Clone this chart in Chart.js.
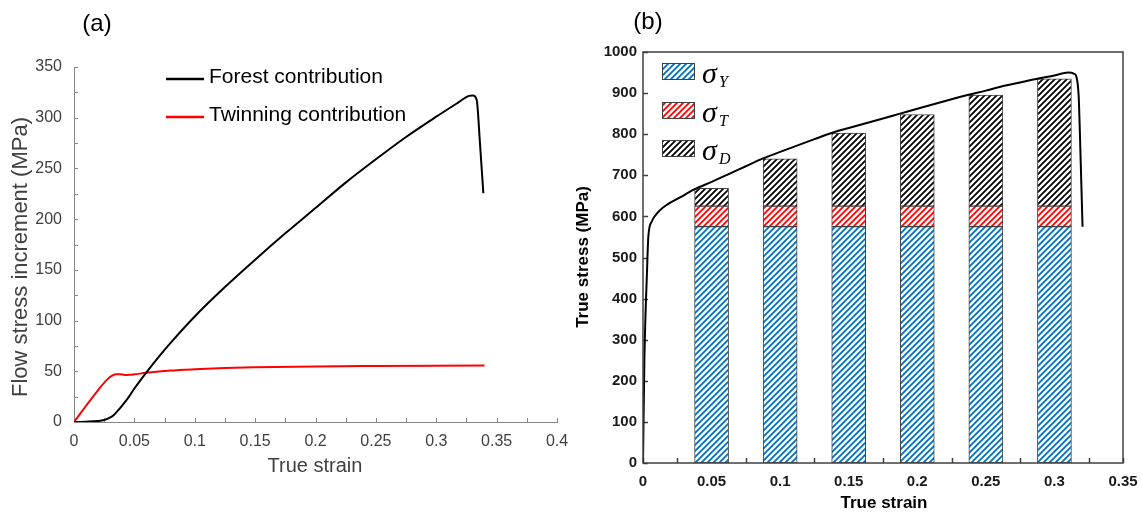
<!DOCTYPE html>
<html>
<head>
<meta charset="utf-8">
<script src="https://cdn.jsdelivr.net/npm/chart.js@4.4.1/dist/chart.umd.min.js"></script>
<style>
  body { margin: 0; background: #fff; }
  #wrap { position: relative; width: 1142px; height: 515px; overflow: hidden; }
  #chartA { position: absolute; left: 0; top: 0; }
  #chartB { position: absolute; left: 570px; top: 0; }
</style>
</head>
<body>
<div id="wrap">
  <canvas id="chartA" width="580" height="515"></canvas>
  <canvas id="chartB" width="572" height="515"></canvas>
</div>
<script>
// (a) flow stress increment vs true strain
const forestStrain = [0, 0.01, 0.02, 0.025, 0.03, 0.033, 0.038, 0.045, 0.05, 0.06, 0.07, 0.08, 0.1, 0.125, 0.15, 0.175, 0.2, 0.225, 0.25, 0.275, 0.3, 0.317, 0.327, 0.3305, 0.3335, 0.3362, 0.339];
const forestStress = [0, 0.3, 1, 2, 4.5, 7, 13.5, 24, 33, 49, 64, 78, 104, 133, 160, 186, 211, 236, 259, 281, 301, 314, 321.5, 322, 317.5, 275, 225.5];
const twinStrain = [0, 0.01, 0.02, 0.028, 0.032, 0.035, 0.038, 0.042, 0.046, 0.05, 0.06, 0.08, 0.1, 0.125, 0.15, 0.2, 0.25, 0.3, 0.34];
const twinStress = [0, 16, 31.5, 42.5, 46, 47.2, 47.2, 46.3, 46.5, 47, 48.5, 50.7, 52, 53.2, 54, 54.8, 55.2, 55.5, 55.7];
const strainTicksA = [0, 0.05, 0.1, 0.15, 0.2, 0.25, 0.3, 0.35, 0.4];
const stressTicksA = [0, 50, 100, 150, 200, 250, 300, 350];

// (b) true stress and its contributions
const barStrain = [0.05, 0.1, 0.15, 0.2, 0.25, 0.3];
const sigmaY = [575, 575, 575, 575, 575, 575];
const sigmaT = [50, 50, 50, 50, 50, 50];
const sigmaD = [43, 115, 178, 223, 270, 310];
const curveStrain = [0, 0.001, 0.002, 0.0027, 0.0039, 0.0063, 0.0112, 0.0173, 0.027, 0.037, 0.05, 0.0625, 0.075, 0.0875, 0.1, 0.125, 0.1375, 0.15, 0.175, 0.1875, 0.2, 0.225, 0.2375, 0.25, 0.26, 0.275, 0.2875, 0.3, 0.31, 0.3145, 0.316, 0.3177, 0.3185, 0.3205];
const curveStress = [0, 250, 380, 445, 551, 587, 611, 628, 646, 665, 684, 703, 722, 741, 757, 788, 803, 815, 838, 850, 862, 885, 896, 906, 915, 926, 935, 943, 950, 947, 940, 891, 810, 575];
const strainTicksB = [0, 0.05, 0.1, 0.15, 0.2, 0.25, 0.3, 0.35];
const stressTicksB = [0, 100, 200, 300, 400, 500, 600, 700, 800, 900, 1000];

const SANS = "'Liberation Sans', Arial, sans-serif";
const SERIF = "'Liberation Serif', 'Times New Roman', serif";
Chart.defaults.font.family = SANS;
Chart.defaults.animation = false;

function pts(xs, ys) {
  return xs.map((x, i) => ({ x: x, y: ys[i] }));
}

function fixedTicks(values) {
  return function (scale) {
    scale.ticks = values.map(v => ({ value: v }));
  };
}

// keep the plot area where the picture has it
function fixSize(prop, size) {
  return function (scale) {
    scale[prop] = size;
    scale.paddingLeft = scale.paddingRight = scale.paddingTop = scale.paddingBottom = 0;
  };
}

function text(ctx, str, x, y, font, color, rotate) {
  ctx.save();
  ctx.translate(x, y);
  if (rotate) ctx.rotate(-Math.PI / 2);
  ctx.font = font;
  ctx.fillStyle = color;
  ctx.textAlign = 'center';
  ctx.textBaseline = 'middle';
  ctx.fillText(str, 0, 0);
  ctx.restore();
}

function tickMarks(step, xMax, yStep, yMax, len, color, width) {
  return {
    id: 'tickMarks',
    beforeDatasetsDraw(chart) {
      const { ctx, chartArea: a, scales: { x, y } } = chart;
      ctx.save();
      ctx.strokeStyle = color;
      ctx.lineWidth = width;
      ctx.beginPath();
      for (let i = 0; i * step <= xMax + 1e-9; i++) {
        const px = Math.round(x.getPixelForValue(i * step)) + 0.5;
        ctx.moveTo(px, a.bottom);
        ctx.lineTo(px, a.bottom - len);
      }
      for (let j = 0; j * yStep <= yMax; j++) {
        const py = Math.round(y.getPixelForValue(j * yStep)) + 0.5;
        ctx.moveTo(a.left, py);
        ctx.lineTo(a.left + len, py);
      }
      ctx.stroke();
      ctx.restore();
    }
  };
}

// ---------- chart (a) ----------
const decorA = {
  id: 'decorA',
  afterDraw(chart) {
    const ctx = chart.ctx;
    text(ctx, '(a)', 97, 24, '24px ' + SANS, '#000', false);
    text(ctx, 'Flow stress increment (MPa)', 21, 257, '22px ' + SANS, '#404040', true);
    text(ctx, 'True strain', 315, 466, '20px ' + SANS, '#404040', false);
    const rows = [79, 117];
    chart.data.datasets.forEach((ds, i) => {
      ctx.save();
      ctx.strokeStyle = ds.borderColor;
      ctx.lineWidth = 2.5;
      ctx.beginPath();
      ctx.moveTo(166, rows[i]);
      ctx.lineTo(204, rows[i]);
      ctx.stroke();
      ctx.font = '21px ' + SANS;
      ctx.fillStyle = '#000';
      ctx.textBaseline = 'middle';
      ctx.fillText(ds.label, 209, rows[i] - 2);
      ctx.restore();
    });
  }
};

new Chart(document.getElementById('chartA'), {
  type: 'line',
  data: {
    datasets: [
      {
        label: 'Forest contribution',
        data: pts(forestStrain, forestStress),
        borderColor: '#000000',
        borderWidth: 2,
        pointRadius: 0,
        cubicInterpolationMode: 'monotone'
      },
      {
        label: 'Twinning contribution',
        data: pts(twinStrain, twinStress),
        borderColor: '#ff0000',
        borderWidth: 2,
        pointRadius: 0,
        cubicInterpolationMode: 'monotone'
      }
    ]
  },
  options: {
    responsive: false,
    layout: { padding: { left: 0, right: 23, top: 67, bottom: 0 } },
    plugins: { legend: { display: false }, tooltip: { enabled: false } },
    scales: {
      x: {
        type: 'linear', min: 0, max: 0.4,
        afterBuildTicks: fixedTicks(strainTicksA),
        afterFit: fixSize('height', 93),
        grid: { display: false, drawTicks: false },
        border: { display: true, color: '#868686', width: 1 },
        ticks: { padding: 10, color: '#404040', font: { size: 16 }, maxRotation: 0, autoSkip: false, callback: v => String(v) }
      },
      y: {
        type: 'linear', min: 0, max: 350,
        afterBuildTicks: fixedTicks(stressTicksA),
        afterFit: fixSize('width', 74),
        grid: { display: false, drawTicks: false },
        border: { display: true, color: '#868686', width: 1 },
        ticks: { padding: 12, color: '#404040', font: { size: 16 }, autoSkip: false, callback: v => String(v) }
      }
    }
  },
  plugins: [tickMarks(0.025, 0.4, 25, 350, 4, '#868686', 1), decorA]
});

// ---------- chart (b) ----------
const ctxB = document.getElementById('chartB').getContext('2d');

function hatch(color) {
  const c = document.createElement('canvas');
  c.width = 6;
  c.height = 6;
  const g = c.getContext('2d');
  g.fillStyle = '#ffffff';
  g.fillRect(0, 0, 6, 6);
  g.strokeStyle = color;
  g.lineWidth = 1.8;
  g.beginPath();
  g.moveTo(-1, 7); g.lineTo(7, -1);
  g.moveTo(-4, 4); g.lineTo(4, -4);
  g.moveTo(2, 10); g.lineTo(10, 2);
  g.stroke();
  return ctxB.createPattern(c, 'repeat');
}

const decorB = {
  id: 'decorB',
  afterDatasetsDraw(chart) {
    const { ctx, chartArea: a } = chart;
    ctx.save();
    ctx.strokeStyle = '#404040';
    ctx.lineWidth = 1.5;
    ctx.strokeRect(a.left, a.top, a.right - a.left, a.bottom - a.top);
    ctx.restore();
  },
  afterDraw(chart) {
    const ctx = chart.ctx;
    text(ctx, '(b)', 78, 22, '24px ' + SANS, '#000', false);
    text(ctx, 'True stress (MPa)', 13, 257, 'bold 17px ' + SANS, '#000', true);
    text(ctx, 'True strain', 314, 503, 'bold 17px ' + SANS, '#000', false);
    const rows = [63, 102, 140];
    chart.data.datasets.filter(ds => ds.type !== 'line').forEach((ds, i) => {
      const top = rows[i];
      ctx.save();
      ctx.fillStyle = ds.backgroundColor;
      ctx.fillRect(92, top, 32, 16);
      ctx.strokeStyle = '#404040';
      ctx.lineWidth = 1;
      ctx.strokeRect(92.5, top + 0.5, 32, 16);
      ctx.fillStyle = '#000';
      ctx.textBaseline = 'alphabetic';
      ctx.font = 'italic 30px ' + SERIF;
      ctx.fillText(ds.label.charAt(0), 132, top + 20);
      ctx.font = 'italic 16px ' + SERIF;
      ctx.fillText(ds.label.slice(1), 149, top + 24);
      ctx.restore();
    });
  }
};

const barStyle = { borderColor: '#404040', borderWidth: 1, borderSkipped: false, barThickness: 34, stack: 'sigma', order: 1 };

new Chart(ctxB, {
  type: 'bar',
  data: {
    datasets: [
      {
        type: 'line',
        label: 'True stress',
        data: pts(curveStrain, curveStress),
        borderColor: '#000000',
        borderWidth: 2,
        pointRadius: 0,
        cubicInterpolationMode: 'monotone',
        stack: 'curve',
        order: 0
      },
      Object.assign({ label: 'σY', data: pts(barStrain, sigmaY), backgroundColor: hatch('#0070c0') }, barStyle),
      Object.assign({ label: 'σT', data: pts(barStrain, sigmaT), backgroundColor: hatch('#ff0000') }, barStyle),
      Object.assign({ label: 'σD', data: pts(barStrain, sigmaD), backgroundColor: hatch('#000000') }, barStyle)
    ]
  },
  options: {
    responsive: false,
    layout: { padding: { left: 0, right: 19, top: 52, bottom: 0 } },
    plugins: { legend: { display: false }, tooltip: { enabled: false } },
    scales: {
      x: {
        type: 'linear', min: 0, max: 0.35, offset: false,
        afterBuildTicks: fixedTicks(strainTicksB),
        afterFit: fixSize('height', 52),
        grid: { display: false, drawTicks: false },
        border: { display: false },
        ticks: { padding: 10, color: '#1a1a1a', font: { size: 15, weight: 'bold' }, maxRotation: 0, autoSkip: false, callback: v => String(v) }
      },
      y: {
        type: 'linear', min: 0, max: 1000, stacked: true,
        afterBuildTicks: fixedTicks(stressTicksB),
        afterFit: fixSize('width', 73),
        grid: { display: false, drawTicks: false },
        border: { display: false },
        ticks: { padding: 6, color: '#1a1a1a', font: { size: 15, weight: 'bold' }, autoSkip: false, callback: v => String(v) }
      }
    }
  },
  plugins: [tickMarks(0.025, 0.35, 100, 1000, 5, '#404040', 1.5), decorB]
});
</script>
</body>
</html>
